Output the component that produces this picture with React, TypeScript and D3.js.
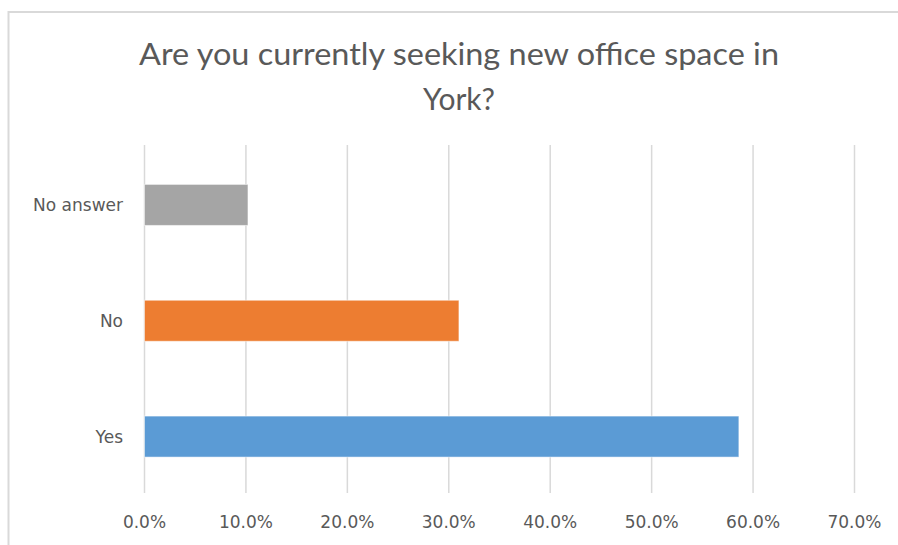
import React from "react";
import * as d3 from "d3";

const categories = ["No answer", "No", "Yes"];
const values = [0.102, 0.31, 0.586];
const colors = ["#A5A5A5", "#ED7D31", "#5B9BD5"];
const ticks = [0, 0.1, 0.2, 0.3, 0.4, 0.5, 0.6, 0.7];
const titleLines = ["Are you currently seeking new office space in", "York?"];

export default function App() {
  const W = 898, H = 545;
  const x = d3.scaleLinear().domain([0, 0.7]).range([144.5, 854.5]);
  const y = d3.scaleBand<string>().domain(categories).range([147, 494.5]).paddingInner(0.646).paddingOuter(0.323);
  const fmt = d3.format(".1%");
  const gridTop = 145, gridBottom = 493;
  return (
    <svg width={W} height={H} style={{ position: "absolute", left: 0, top: 0, background: "#fff" }}>
      <rect x={0} y={0} width={W} height={H} fill="#fff" />
      <rect x={8.5} y={12} width={W + 20} height={H + 20} fill="none" stroke="#D9D9D9" strokeWidth={2} />
      <text x={459} y={65} textAnchor="middle" fontFamily="Lato, 'Open Sans', sans-serif" fontSize={30} fill="#595959" textLength={640} lengthAdjust="spacingAndGlyphs">{titleLines[0]}</text>
      <text x={459} y={110} textAnchor="middle" fontFamily="Lato, 'Open Sans', sans-serif" fontSize={30} fill="#595959">{titleLines[1]}</text>
      {ticks.map((t) => (
        <g key={t}>
          <line x1={x(t)} x2={x(t)} y1={gridTop} y2={gridBottom} stroke="#D9D9D9" strokeWidth={1.5} />
          <text x={x(t)} y={528} textAnchor="middle" fontFamily="'DejaVu Sans', sans-serif" fontSize={17} fill="#595959">{fmt(t)}</text>
        </g>
      ))}
      {categories.map((c, i) => (
        <g key={c}>
          <rect x={x(0)} y={y(c)!} width={x(values[i]) - x(0)} height={y.bandwidth()} fill={colors[i]} stroke="#fff" strokeOpacity={0.5} strokeWidth={1} />
          <text x={123} y={y(c)! + y.bandwidth() / 2} dy="0.35em" textAnchor="end" fontFamily="'DejaVu Sans', sans-serif" fontSize={17} fill="#595959">{c}</text>
        </g>
      ))}
    </svg>
  );
}
